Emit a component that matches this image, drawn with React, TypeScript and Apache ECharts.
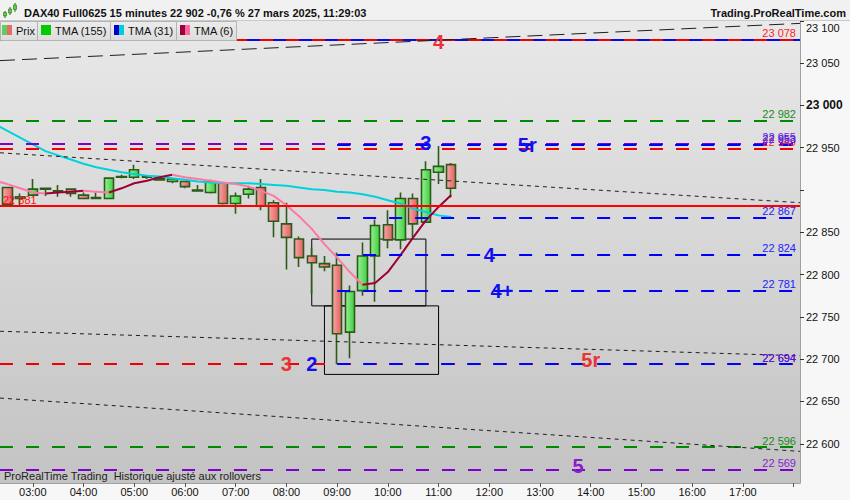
import React, { useEffect, useRef } from "react";
import * as echarts from "echarts";

// ---------------- data ----------------
const TIMES = ["02:30","02:45","03:00","03:15","03:30","03:45","04:00","04:15","04:30","04:45","05:00","05:15","05:30","05:45","06:00","06:15","06:30","06:45","07:00","07:15","07:30","07:45","08:00","08:15","08:30","08:45","09:00","09:15","09:30","09:45","10:00","10:15","10:30","10:45","11:00","11:15"];
const OPEN = [22903,22890,22894,22901,22898,22901,22894,22890,22890,22915,22915,22916,22912,22910,22910,22899,22897,22908,22884,22895,22903,22885,22860,22842,22822,22813,22811,22732,22781,22822,22859,22841,22890,22862,22921,22930];
const CLOSE = [22883,22892,22901,22902,22899,22896,22890,22891,22914,22916,22924,22915,22914,22913,22904,22900,22910,22884,22893,22901,22881,22863,22844,22820,22814,22809,22730,22780,22822,22858,22841,22890,22860,22924,22928,22902];
const LOW = [22880,22880,22894,22893,22892,22892,22890,22890,22889,22914,22913,22913,22912,22908,22902,22899,22896,22883,22872,22890,22876,22844,22806,22809,22777,22804,22694,22701,22775,22768,22831,22830,22844,22861,22907,22891];
const HIGH = [22904,22896,22913,22903,22906,22901,22897,22897,22915,22918,22930,22917,22916,22914,22910,22906,22912,22909,22897,22905,22913,22888,22885,22845,22832,22822,22826,22787,22838,22865,22876,22897,22896,22934,22952,22932];

// moving averages (first value = previous bar, 02:15)
const MA_TIMES = ["02:15", ...TIMES];
const TMA31 = [22978,22970,22962,22954,22946,22941,22936,22931,22927,22924,22921,22919,22917,22916,22914,22912,22910,22909,22908,22908,22908,22907,22906,22905,22903,22901,22900,22898,22897,22895,22892,22888,22884,22878,22874,22870,22868];
const TMA6 = [22911,22907,22902,22897,22896,22897,22898,22899,22898,22897,22902,22908,22911,22915,22918,22915,22913,22911,22909,22907,22904,22899,22893,22882,22869,22854,22836,22820,22803,22788,22790,22803,22823,22844,22864,22880,22894];

const X_TICK_HOURS = [3,4,5,6,7,8,9,10,11,12,13,14,15,16,17,18];
const X_LABEL_HOURS = [3,4,5,6,7,8,9,10,11,12,13,14,15,16,17];
const Y_TICKS = [22600,22650,22700,22750,22800,22850,22900,22950,23000,23050,23100];
const Y_LABELS = [22600,22650,22700,22750,22800,22850,22950,23000,23050,23100];

const LAST_PRICE = 22902;
const BLUE_SOLID = 23078;
const RED_SOLID = 22881;
const RED_DASHED = [23078, 22949, 22694];
const GREEN_DASHED = [22982, 22596];
const PURPLE_DASHED = [22955, 22569];
const BLUE_DASHED = [22953, 22867, 22824, 22781, 22694];
const BLUE_FROM = "09:00";
// trend lines: value at left edge, value at right edge of the plot
const TRENDS = [[23053, 23097], [22944, 22885], [22733, 22704], [22654, 22591]];
const BOXES = [["08:30", "10:45", 22842, 22763], ["08:45", "11:00", 22763, 22682]];
const WAVE_RED = [["4", "11:00", 23075], ["3", "08:00", 22694], ["5r", "14:00", 22699]];
const WAVE_BLUE = [["3", "10:45", 22956], ["5r", "12:45", 22953], ["4", "12:00", 22823], ["4+", "12:15", 22781], ["2", "08:30", 22694]];
const WAVE_PURPLE = [["5", "13:45", 22574]];

const HEADER = "DAX40 Full0625 15 minutes 22 902 -0,76 % 27 mars 2025, 11:29:03";
const SITE = "Trading.ProRealTime.com";
const FOOTER = "ProRealTime Trading  Historique ajusté aux rollovers";
const LEGEND = ["Prix", "TMA (155)", "TMA (31)", "TMA (6)"];

// ---------------- helpers ----------------
const FONT = "'Liberation Sans', Arial, Helvetica, sans-serif";
const X_MIN = 2.3533;
const X_MAX = 18.126;
const Y_MIN = 22553.6;
const Y_MAX = 23101;
const toH = (s: string) => Number(s.slice(0, 2)) + Number(s.slice(3, 5)) / 60;
const fmt = (v: number) => {
  const r = Math.round(v);
  return `${Math.floor(r / 1000)} ${String(r % 1000).padStart(3, "0")}`;
};

const C_RED = "#f00000";
const C_BLUE = "#0000ff";
const C_GREEN = "#008a00";
const C_PURPLE = "#7f00cc";

function buildOption() {
  const candles = TIMES.map((t, i) => [toH(t), OPEN[i], CLOSE[i], LOW[i], HIGH[i]]);

  // TMA6 split into rising (dark red) / falling (pink) runs
  const runs: { up: boolean; pts: number[][] }[] = [];
  for (let i = 1; i < TMA6.length; i++) {
    const up = TMA6[i] >= TMA6[i - 1];
    const last = runs[runs.length - 1];
    const p = [toH(MA_TIMES[i]), TMA6[i]];
    if (last && last.up === up) last.pts.push(p);
    else runs.push({ up, pts: [[toH(MA_TIMES[i - 1]), TMA6[i - 1]], p] });
  }

  const dash = (color: string) => ({ color, width: 2, type: [13, 13] as any });
  const rightLabel = (v: number, color: string) => ({
    show: true, position: "insideEndTop", formatter: fmt(v), color, fontSize: 11, fontFamily: FONT, distance: [4, 1],
  });
  const noLabel = { show: false };

  const lines: any[] = [];
  lines.push({ yAxis: BLUE_SOLID, lineStyle: { color: "#0a0ae6", width: 2, type: "solid" }, label: noLabel });
  GREEN_DASHED.forEach((v) => lines.push({ yAxis: v, lineStyle: dash(C_GREEN), label: rightLabel(v, "#1a8a1a") }));
  RED_DASHED.forEach((v) => lines.push({ yAxis: v, lineStyle: dash(C_RED), label: rightLabel(v, "#ff2222") }));
  PURPLE_DASHED.forEach((v) => lines.push({ yAxis: v, lineStyle: dash(C_PURPLE), label: rightLabel(v, "#8a22d0") }));
  BLUE_DASHED.forEach((v) =>
    lines.push([
      { coord: [toH(BLUE_FROM), v], lineStyle: dash(C_BLUE), label: rightLabel(v, "#2020ff") },
      { coord: [X_MAX, v] },
    ])
  );
  lines.push({
    yAxis: RED_SOLID,
    lineStyle: { color: "#ff0000", width: 2, type: "solid" },
    label: { show: true, position: "insideStartTop", formatter: fmt(RED_SOLID), color: "#ff1010", fontSize: 11, fontFamily: FONT, distance: [3, 1] },
  });
  TRENDS.forEach((tr, i) =>
    lines.push([
      { coord: [X_MIN, tr[0]], lineStyle: { color: "#1e1e1e", width: 1, type: i === 0 ? [15, 7] : [4, 4] }, label: noLabel },
      { coord: [X_MAX, tr[1]] },
    ])
  );
  lines.push({
    yAxis: LAST_PRICE,
    lineStyle: { opacity: 0, width: 1 },
    label: {
      show: true, position: "end", formatter: fmt(LAST_PRICE), backgroundColor: "#ffd200", borderColor: "#8c8c8c",
      borderWidth: 1, padding: [2, 2, 1, 2], color: "#000", fontSize: 11, fontFamily: FONT, distance: 3,
    },
  });

  const boxes = BOXES.map((b) => [
    { coord: [toH(b[0] as string), b[2]], itemStyle: { color: "rgba(0,0,0,0)", borderColor: "#000", borderWidth: 1 } },
    { coord: [toH(b[1] as string), b[3]] },
  ]);

  const waves: any[] = [];
  const addWaves = (arr: any[], color: string) =>
    arr.forEach((w) => waves.push({ name: w[0], value: [toH(w[1]), w[2]], label: { color } }));
  addWaves(WAVE_RED, "#ea3434");
  addWaves(WAVE_BLUE, "#1010f0");
  addWaves(WAVE_PURPLE, "#8a1fc8");

  const greenFill = new echarts.graphic.LinearGradient(0, 0, 1, 0, [
    { offset: 0, color: "#96f096" },
    { offset: 1, color: "#3fcf3f" },
  ]);
  const redFill = new echarts.graphic.LinearGradient(0, 0, 1, 0, [
    { offset: 0, color: "#f7a8a8" },
    { offset: 1, color: "#e25f5f" },
  ]);

  // ---------- graphic (header, legend, footer) ----------
  const legendCells = [
    { x: 0, w: 37, sw: ["#5ccf5c", "#e86a6a"], sx: 2, tx: 16 },
    { x: 37, w: 73, sw: ["#00cc00", "#00cc00"], sx: 4, tx: 18 },
    { x: 110, w: 66, sw: ["#0000c8", "#00ccdd"], sx: 4, tx: 18 },
    { x: 176, w: 60, sw: ["#99003d", "#ff6699"], sx: 4, tx: 18 },
  ];
  const graphic: any[] = [
    { type: "rect", shape: { x: 0, y: 0, width: 850, height: 20 }, style: { fill: "#f1f1f1" }, z: 100, silent: true },
    { type: "line", shape: { x1: 0, y1: 20.5, x2: 850, y2: 20.5 }, style: { stroke: "#c9c9c9", lineWidth: 1 }, z: 100, silent: true },
    // small candle icon
    { type: "line", shape: { x1: 5, y1: 11, x2: 5, y2: 18 }, style: { stroke: "#2f6a1a", lineWidth: 1 }, z: 101 },
    { type: "rect", shape: { x: 3.5, y: 12.5, width: 3, height: 3.5 }, style: { fill: "#58d040", stroke: "#2f6a1a", lineWidth: 0.6 }, z: 102 },
    { type: "line", shape: { x1: 10, y1: 7, x2: 10, y2: 15 }, style: { stroke: "#2f6a1a", lineWidth: 1 }, z: 101 },
    { type: "rect", shape: { x: 8.5, y: 9, width: 3, height: 4 }, style: { fill: "#58d040", stroke: "#2f6a1a", lineWidth: 0.6 }, z: 102 },
    { type: "line", shape: { x1: 15, y1: 3, x2: 15, y2: 12 }, style: { stroke: "#2f6a1a", lineWidth: 1 }, z: 101 },
    { type: "rect", shape: { x: 13.5, y: 5, width: 3, height: 4.5 }, style: { fill: "#58d040", stroke: "#2f6a1a", lineWidth: 0.6 }, z: 102 },
    {
      type: "text", x: 24, y: 12.5, z: 101, silent: true,
      style: { text: HEADER, font: `bold 11px ${FONT}`, fill: "#111", verticalAlign: "middle", align: "left" },
    },
    {
      type: "text", x: 846, y: 12.5, z: 101, silent: true,
      style: { text: SITE, font: `bold 11px ${FONT}`, fill: "#111", verticalAlign: "middle", align: "right" },
    },
    {
      type: "text", x: 4, y: 476, z: 101, silent: true,
      style: { text: FOOTER, font: `11px ${FONT}`, fill: "#222", verticalAlign: "middle", align: "left" },
    },
  ];
  legendCells.forEach((c, i) => {
    graphic.push({
      type: "rect", shape: { x: c.x + 0.5, y: 21.5, width: c.w, height: 19 }, z: 100, silent: true,
      style: { fill: new echarts.graphic.LinearGradient(0, 0, 0, 1, [{ offset: 0, color: "#ececec" }, { offset: 1, color: "#dcdcdc" }]), stroke: "#b4b4b4", lineWidth: 1 },
    });
    graphic.push({ type: "rect", shape: { x: c.x + c.sx, y: 25, width: 5, height: 10 }, style: { fill: c.sw[0] }, z: 101, silent: true });
    graphic.push({ type: "rect", shape: { x: c.x + c.sx + 5, y: 25, width: 5, height: 10 }, style: { fill: c.sw[1] }, z: 101, silent: true });
    graphic.push({
      type: "text", x: c.x + c.tx, y: 31, z: 101, silent: true,
      style: { text: LEGEND[i], font: `11px ${FONT}`, fill: "#111", verticalAlign: "middle", align: "left" },
    });
  });

  return {
    animation: false,
    backgroundColor: "#f7f7f7",
    textStyle: { fontFamily: FONT },
    grid: {
      left: 0, right: 50, top: 20, bottom: 17, show: true, borderWidth: 0,
      backgroundColor: new echarts.graphic.LinearGradient(0, 0, 0, 1, [
        { offset: 0, color: "#e9e9e9" },
        { offset: 1, color: "#c3c3c3" },
      ]),
    },
    xAxis: {
      type: "value", min: X_MIN, max: X_MAX,
      splitLine: { show: false },
      axisLine: { show: true, lineStyle: { color: "#a0a0a0" } },
      axisTick: { show: true, length: 4, customValues: X_TICK_HOURS, lineStyle: { color: "#555" } },
      axisLabel: {
        customValues: X_LABEL_HOURS, margin: 3, color: "#111", fontSize: 11, fontFamily: FONT,
        formatter: (v: number) => `${String(Math.round(v)).padStart(2, "0")}:00`,
      },
    },
    yAxis: {
      type: "value", position: "right", min: Y_MIN, max: Y_MAX, scale: true,
      splitLine: { show: false },
      axisLine: { show: true, lineStyle: { color: "#a0a0a0" } },
      axisTick: { show: true, length: 4, customValues: Y_TICKS, lineStyle: { color: "#333" } },
      axisLabel: {
        customValues: Y_LABELS, margin: 6, color: "#111", fontSize: 11, fontFamily: FONT,
        formatter: (v: number) => (Math.round(v) === 23000 ? `{b|${fmt(v)}}` : Math.round(v) === 23100 ? `{t|${fmt(v)}}` : fmt(v)),
        rich: { b: { fontWeight: "bold", fontSize: 12, fontFamily: FONT, color: "#111" }, t: { padding: [15, 0, 0, 0], fontSize: 11, fontFamily: FONT, color: "#111" } },
      },
    },
    graphic,
    series: [
      {
        type: "candlestick", name: "Prix", data: candles, encode: { x: 0, y: [1, 2, 3, 4] },
        barWidth: 10, z: 2, silent: true,
        itemStyle: { color: greenFill, color0: redFill, borderColor: "#2c5a18", borderColor0: "#2c5a18", borderWidth: 1.6 },
      },
      {
        type: "line", name: "TMA (31)", data: MA_TIMES.map((t, i) => [toH(t), TMA31[i]]),
        showSymbol: false, symbol: "none", z: 3, silent: true,
        lineStyle: { color: "#00d2dc", width: 2 },
      },
      ...runs.map((r) => ({
        type: "line", name: "TMA (6)", data: r.pts, showSymbol: false, symbol: "none", z: 3, silent: true,
        lineStyle: { color: r.up ? "#9e0035" : "#ff78a5", width: 2 },
      })),
      {
        type: "line", name: "levels", data: [], z: 4, silent: true,
        markLine: { silent: true, symbol: ["none", "none"], animation: false, data: lines },
        markArea: { silent: true, data: boxes },
      },
      {
        type: "scatter", name: "waves", data: waves, symbolSize: 1, z: 6, silent: true,
        itemStyle: { color: "rgba(0,0,0,0)" },
        label: { show: true, position: "inside", formatter: "{b}", fontSize: 20, fontWeight: "bold", fontFamily: FONT, opacity: 1 },
      },
    ],
  };
}

export default function App() {
  const ref = useRef<HTMLDivElement>(null);
  useEffect(() => {
    document.body.style.margin = "0";
    const chart = echarts.init(ref.current as HTMLDivElement, null, { renderer: "svg" });
    chart.setOption(buildOption() as any);
    return () => chart.dispose();
  }, []);
  return (
    <div style={{ position: "absolute", left: 0, top: 0, width: 850, height: 500, background: "#f7f7f7" }}>
      <div ref={ref} style={{ width: 850, height: 500 }} />
    </div>
  );
}
